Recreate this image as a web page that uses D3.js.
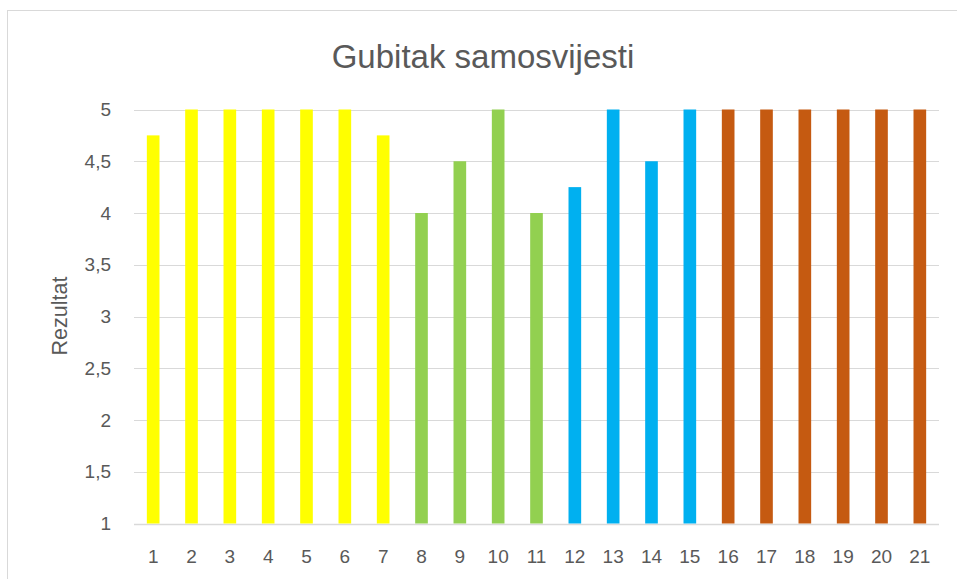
<!DOCTYPE html>
<html><head><meta charset="utf-8">
<script src="https://cdn.jsdelivr.net/npm/d3@7"></script>
<style>body{margin:0;background:#fff}svg{display:block}</style>
</head><body><svg id="c" width="957" height="579"></svg>
<script>
const categories = ["1","2","3","4","5","6","7","8","9","10","11","12","13","14","15","16","17","18","19","20","21"];
const values = [4.75,5,5,5,5,5,4.75,4,4.5,5,4,4.25,5,4.5,5,5,5,5,5,5,5];
const groupOf = ["A","A","A","A","A","A","A","B","B","B","B","C","C","C","C","D","D","D","D","D","D"];
const groupColors = {A:"#FFFF00",B:"#92D050",C:"#00B0F0",D:"#C55A11"};
const yTicks = [1,1.5,2,2.5,3,3.5,4,4.5,5];
const title = "Gubitak samosvijesti";
const yTitle = "Rezultat";

const svg = d3.select("#c");
const font = "Liberation Sans, Arial, sans-serif";
svg.append("rect").attr("x",7.5).attr("y",10.5).attr("width",1000).attr("height",1000)
  .attr("fill","#fff").attr("stroke","#d9d9d9").attr("stroke-width",1);

const x = d3.scaleBand().domain(categories).range([134,939]).paddingInner(0.67).paddingOuter(0.335);
const y = d3.scaleLinear().domain([1,5]).range([523.5,109.5]);

const grid = svg.append("g");
yTicks.forEach(t=>{
  grid.append("line").attr("x1",134).attr("x2",939).attr("y1",Math.round(y(t))+0.5).attr("y2",Math.round(y(t))+0.5)
    .attr("stroke","#d9d9d9").attr("stroke-width",t===1?1.5:1);
});

svg.append("g").selectAll("rect").data(values).join("rect")
  .attr("x",(d,i)=>x(categories[i])).attr("width",x.bandwidth())
  .attr("y",d=>y(d)).attr("height",d=>y(1)-y(d))
  .attr("fill",(d,i)=>groupColors[groupOf[i]]);

const yAxis = d3.axisLeft(y).tickValues(yTicks).tickSize(0).tickPadding(0)
  .tickFormat(d=>String(d).replace(".",","));
const ya = svg.append("g").attr("transform","translate(111,0)").call(yAxis);
ya.select(".domain").remove();
ya.selectAll("text").attr("font-family",font).attr("font-size",19).attr("fill","#595959");

const xAxis = d3.axisBottom(x).tickSize(0).tickPadding(0);
const xa = svg.append("g").attr("transform","translate(0,563)").call(xAxis);
xa.select(".domain").remove();
xa.selectAll("text").attr("font-family",font).attr("font-size",19).attr("fill","#595959").attr("dy","0");

svg.append("text").attr("x",483).attr("y",68).attr("text-anchor","middle")
  .attr("font-family",font).attr("font-size",33).attr("fill","#595959").text(title);

svg.append("text").attr("transform","translate(67,316) rotate(-90)").attr("text-anchor","middle")
  .attr("font-family",font).attr("font-size",21.5).attr("fill","#595959").text(yTitle);
</script></body></html>
